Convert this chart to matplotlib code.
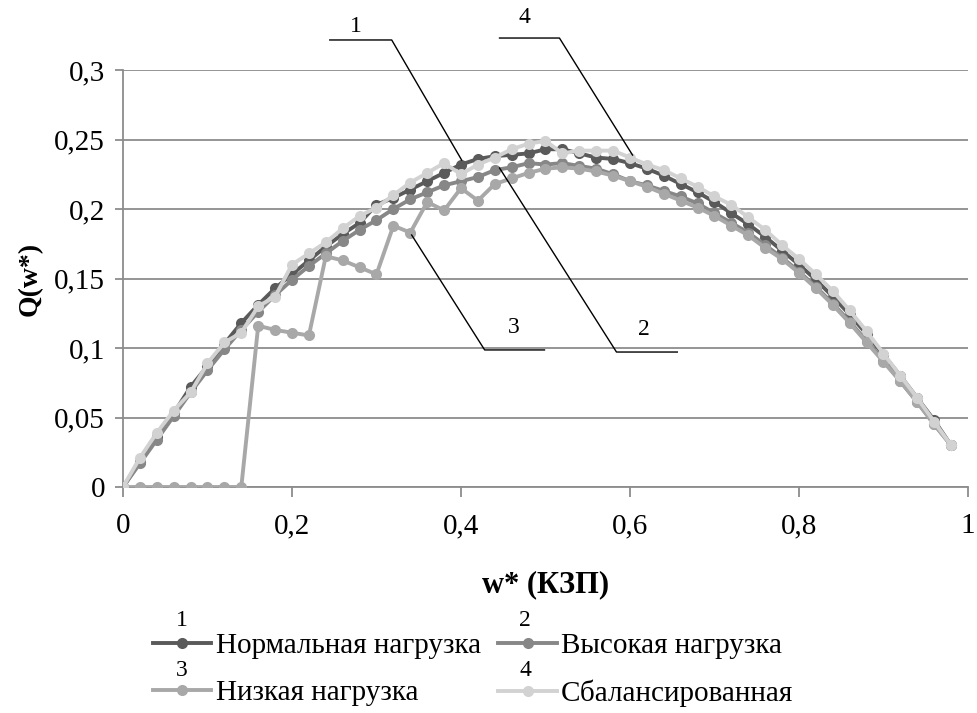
import matplotlib
matplotlib.use("Agg")
import matplotlib.pyplot as plt

x = [round(0.02 * i, 2) for i in range(50)]

normal = [0, 0.018, 0.036, 0.053, 0.072, 0.087, 0.103, 0.118, 0.131, 0.143,
          0.153, 0.163, 0.173, 0.182, 0.190, 0.203, 0.208, 0.214, 0.220, 0.226,
          0.232, 0.236, 0.238, 0.239, 0.240, 0.243, 0.243, 0.240, 0.237, 0.236,
          0.233, 0.229, 0.224, 0.218, 0.212, 0.205, 0.197, 0.189, 0.180, 0.170,
          0.160, 0.149, 0.137, 0.124, 0.110, 0.095, 0.080, 0.064, 0.048, 0.030]

high = [0, 0.017, 0.034, 0.051, 0.068, 0.084, 0.099, 0.113, 0.126, 0.138,
        0.149, 0.159, 0.168, 0.177, 0.185, 0.192, 0.200, 0.207, 0.212, 0.217,
        0.220, 0.223, 0.228, 0.230, 0.233, 0.232, 0.233, 0.231, 0.229, 0.225,
        0.220, 0.217, 0.213, 0.209, 0.204, 0.197, 0.190, 0.183, 0.174, 0.165,
        0.155, 0.144, 0.132, 0.119, 0.105, 0.091, 0.076, 0.061, 0.045, 0.030]

low = [0, 0, 0, 0, 0, 0, 0, 0, 0.116, 0.113,
       0.111, 0.109, 0.166, 0.163, 0.158, 0.153, 0.188, 0.183, 0.205, 0.199,
       0.215, 0.206, 0.218, 0.222, 0.226, 0.229, 0.230, 0.229, 0.227, 0.224,
       0.220, 0.216, 0.211, 0.206, 0.201, 0.195, 0.188, 0.181, 0.172, 0.164,
       0.154, 0.143, 0.131, 0.118, 0.104, 0.090, 0.076, 0.061, 0.045, 0.030]

balanced = [0, 0.021, 0.039, 0.055, 0.068, 0.089, 0.104, 0.111, 0.130, 0.137,
            0.160, 0.168, 0.176, 0.186, 0.195, 0.201, 0.210, 0.219, 0.226, 0.233,
            0.225, 0.232, 0.237, 0.243, 0.247, 0.249, 0.240, 0.242, 0.242, 0.242,
            0.237, 0.232, 0.228, 0.222, 0.216, 0.209, 0.203, 0.194, 0.185, 0.174,
            0.164, 0.153, 0.141, 0.127, 0.112, 0.096, 0.080, 0.064, 0.047, 0.030]

labels = ["Нормальная нагрузка", "Высокая нагрузка", "Низкая нагрузка", "Сбалансированная"]
numbers = ["1", "2", "3", "4"]
colors = ["#5a5a5a", "#878787", "#a8a8a8", "#d2d2d2"]

yticks = [0, 0.05, 0.1, 0.15, 0.2, 0.25, 0.3]
ytick_labels = ["0", "0,05", "0,1", "0,15", "0,2", "0,25", "0,3"]
xticks = [0, 0.2, 0.4, 0.6, 0.8, 1.0]
xtick_labels = ["0", "0,2", "0,4", "0,6", "0,8", "1"]

# leader lines (data coords): (x points, y points, label pos)
leaders = [
    ([0.2447, 0.318, 0.4007], [0.3216, 0.3216, 0.2353], (0.2754, 0.331), "1"),
    ([0.656, 0.584, 0.4456], [0.0971, 0.0971, 0.2295], (0.617, 0.113), "2"),
    ([0.4988, 0.428, 0.3416], [0.0986, 0.0986, 0.1813], (0.462, 0.115), "3"),
    ([0.4456, 0.5165, 0.603], [0.323, 0.323, 0.2388], (0.475, 0.3375), "4"),
]

serif = "Liberation Serif"
plt.rcParams["font.family"] = [serif, "DejaVu Serif"]

fig = plt.figure(figsize=(9.78, 7.13), dpi=100)
ax = fig.add_axes([123 / 978, 1 - 487 / 713, (968 - 123) / 978, (487 - 70) / 713])

series = [normal, high, low, balanced]
handles = []
for s, c, lab in zip(series, colors, labels):
    h, = ax.plot(x, s, color=c, lw=2.8, marker="o", markersize=8,
                 markeredgewidth=0, label=lab, zorder=3)
    handles.append(h)

ax.set_xlim(0, 1)
ax.set_ylim(0, 0.3)
ax.set_yticks(yticks)
ax.set_yticklabels(ytick_labels, fontsize=21)
ax.set_xticks(xticks)
ax.set_xticklabels(xtick_labels, fontsize=21)
ax.grid(axis="y", color="#8c8c8c", lw=1.3, zorder=0)
ax.set_axisbelow(True)
for sp in ["top", "right"]:
    ax.spines[sp].set_visible(False)
for sp in ["left", "bottom"]:
    ax.spines[sp].set_color("#8c8c8c")
    ax.spines[sp].set_linewidth(1.3)
ax.tick_params(axis="y", length=6, color="#8c8c8c", width=1.3, pad=7)
ax.tick_params(axis="x", length=7, color="#8c8c8c", width=1.3, pad=12)

ax.set_ylabel("Q(w*)", fontsize=20, fontweight="bold", labelpad=8)
ax.set_xlabel("w* (КЗП)", fontsize=22, fontweight="bold", labelpad=22)

for xs, ys, (tx, ty), t in leaders:
    ax.plot(xs, ys, color="black", lw=1.0, clip_on=False, zorder=5)
    ax.text(tx, ty, t, fontsize=17, ha="center", va="center")

order = [0, 2, 1, 3]
leg = fig.legend([handles[i] for i in order], [labels[i] for i in order],
                 ncol=2, loc="upper left", bbox_to_anchor=(153 / 978, 1 - 633 / 713),
                 frameon=False, fontsize=21, handlelength=2.0, handletextpad=0.15,
                 columnspacing=0.6, labelspacing=0.7, borderpad=0, borderaxespad=0)

num_pos = [(182, 620), (525, 620), (182, 670), (525, 670)]
for (px, py), n in zip(num_pos, numbers):
    fig.text(px / 978, 1 - py / 713, n, fontsize=17, ha="center", va="center")

fig.savefig("out.png", dpi=100)
